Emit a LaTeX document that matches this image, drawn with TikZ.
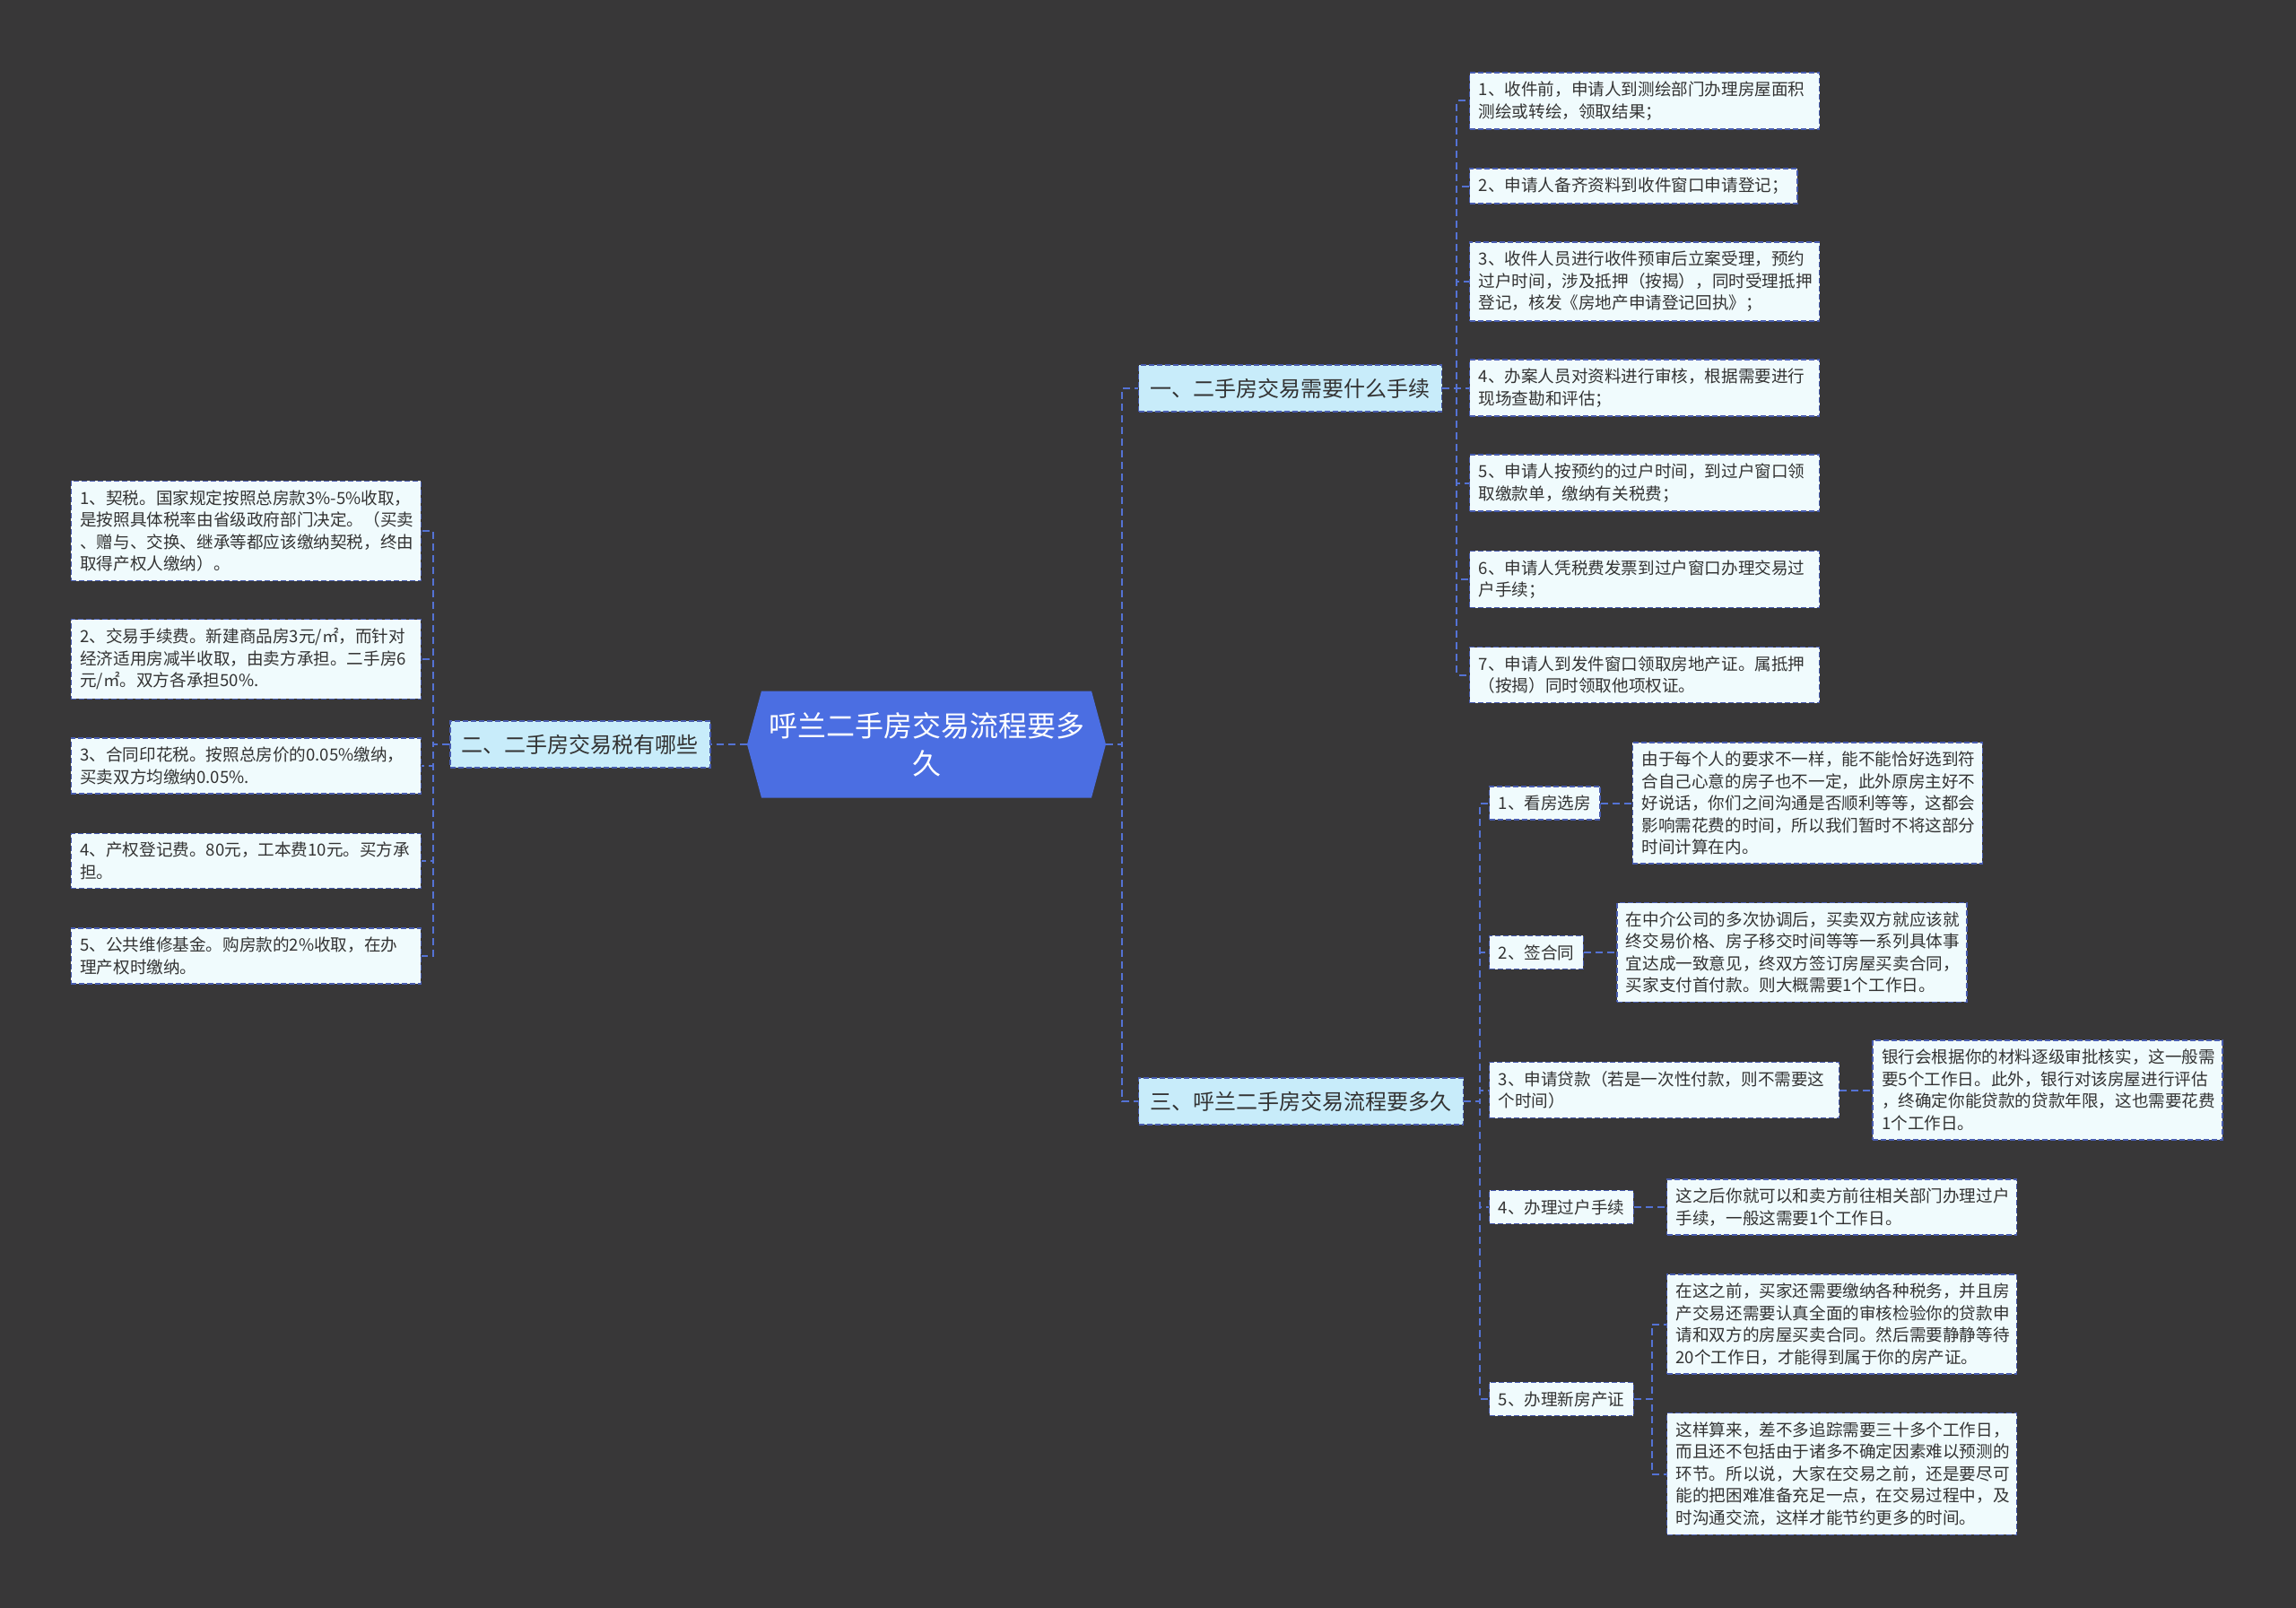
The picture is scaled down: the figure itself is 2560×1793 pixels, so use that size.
\documentclass[tikz,border=0pt]{standalone}
\usepackage{fontspec}
\setmainfont{Noto Sans CJK SC}
\usepackage{xcolor}
\usepackage{tikz}
\usetikzlibrary{positioning, calc}
\definecolor{canvas}{RGB}{56,55,56}
\definecolor{topicblue}{RGB}{75,110,226}
\definecolor{branchfill}{RGB}{200,236,250}
\definecolor{leaffill}{RGB}{240,251,253}
\definecolor{rim}{RGB}{72,92,175}
\definecolor{wire}{RGB}{84,114,212}
\definecolor{ink}{RGB}{51,51,51}
\tikzset{topic/.style={
    rectangle,
    minimum width=200pt,
    minimum height=59.5pt,
    align=center,
    text=white,
    font=\fontsize{16pt}{21pt}\selectfont,
    path picture={
        \fill[topicblue] ([xshift=8pt]path picture bounding box.north west)
            -- ([xshift=-8pt]path picture bounding box.north east)
            -- (path picture bounding box.east)
            -- ([xshift=-8pt]path picture bounding box.south east)
            -- ([xshift=8pt]path picture bounding box.south west)
            -- (path picture bounding box.west) -- cycle;
    }
}}
\tikzset{branch/.style={
    rectangle,
    fill=branchfill,
    draw=rim,
    line width=0.7pt,
    dash pattern=on 3pt off 1.5pt,
    inner xsep=6.5pt,
    minimum height=26pt,
    text=ink,
    font=\fontsize{12pt}{14pt}\selectfont
}}
\tikzset{leaf/.style={
    rectangle,
    fill=leaffill,
    draw=rim,
    line width=0.7pt,
    dash pattern=on 3pt off 1.5pt,
    inner xsep=5pt,
    inner ysep=5pt,
    align=left,
    text=ink,
    font=\fontsize{9.3pt}{12.25pt}\selectfont
}}
\tikzset{note/.style={leaf, text width=185pt}}
\tikzset{link/.style={draw=wire, line width=1pt, dash pattern=on 4pt off 2.5pt}}

\begin{document}
\begin{tikzpicture}[x=0.5pt, y=-0.5pt]
    \fill[canvas] (0,0) rectangle (2560,1793);
    % centre and main branches
    \node (topic) [topic] at (1033,830) {呼兰二手房交易流程要多\\久};
    \node (taxes) [branch, left=20pt of topic] {二、二手房交易税有哪些};
    \node (steps) [branch, anchor=west] at (1269,433) {一、二手房交易需要什么手续};
    \node (timing) [branch, anchor=west] at (1269,1228) {三、呼兰二手房交易流程要多久};
    % procedure
    \node (s1) [note, anchor=west] at (1638,112.5) {1、收件前，申请人到测绘部门办理房屋面积\\测绘或转绘，领取结果；};
    \node (s2) [leaf, anchor=west] at (1638,207.5) {2、申请人备齐资料到收件窗口申请登记；};
    \node (s3) [note, anchor=west] at (1638,314) {3、收件人员进行收件预审后立案受理，预约\\过户时间，涉及抵押（按揭），同时受理抵押\\登记，核发《房地产申请登记回执》；};
    \node (s4) [note, anchor=west] at (1638,432.5) {4、办案人员对资料进行审核，根据需要进行\\现场查勘和评估；};
    \node (s5) [note, anchor=west] at (1638,538.5) {5、申请人按预约的过户时间，到过户窗口领\\取缴款单，缴纳有关税费；};
    \node (s6) [note, anchor=west] at (1638,646) {6、申请人凭税费发票到过户窗口办理交易过\\户手续；};
    \node (s7) [note, anchor=west] at (1638,752.5) {7、申请人到发件窗口领取房地产证。属抵押\\（按揭）同时领取他项权证。};
    % taxes
    \node (t1) [note, anchor=east] at (470,592) {1、契税。国家规定按照总房款3\%-5\%收取，\\是按照具体税率由省级政府部门决定。（买卖\\、赠与、交换、继承等都应该缴纳契税，终由\\取得产权人缴纳）。};
    \node (t2) [note, anchor=east] at (470,735) {2、交易手续费。新建商品房3元/㎡，而针对\\经济适用房减半收取，由卖方承担。二手房6\\元/㎡。双方各承担50\%.};
    \node (t3) [note, anchor=east] at (470,854) {3、合同印花税。按照总房价的0.05\%缴纳，\\买卖双方均缴纳0.05\%.};
    \node (t4) [note, anchor=east] at (470,960) {4、产权登记费。80元，工本费10元。买方承\\担。};
    \node (t5) [note, anchor=east] at (470,1066) {5、公共维修基金。购房款的2\%收取，在办\\理产权时缴纳。};
    % phases
    \node (p1) [leaf, anchor=west] at (1660,895.5) {1、看房选房};
    \node (p2) [leaf, anchor=west] at (1660,1062) {2、签合同};
    \node (p3) [note, anchor=west] at (1660,1215.5) {3、申请贷款（若是一次性付款，则不需要这\\个时间）};
    \node (p4) [leaf, anchor=west] at (1660,1346) {4、办理过户手续};
    \node (p5) [leaf, anchor=west] at (1660,1560) {5、办理新房产证};
    \node (d1) [note, right=17.5pt of p1] {由于每个人的要求不一样，能不能恰好选到符\\合自己心意的房子也不一定，此外原房主好不\\好说话，你们之间沟通是否顺利等等，这都会\\影响需花费的时间，所以我们暂时不将这部分\\时间计算在内。};
    \node (d2) [note, right=18pt of p2] {在中介公司的多次协调后，买卖双方就应该就\\终交易价格、房子移交时间等等一系列具体事\\宜达成一致意见，终双方签订房屋买卖合同，\\买家支付首付款。则大概需要1个工作日。};
    \node (d3) [note, right=18pt of p3] {银行会根据你的材料逐级审批核实，这一般需\\要5个工作日。此外，银行对该房屋进行评估\\，终确定你能贷款的贷款年限，这也需要花费\\1个工作日。};
    \node (d4) [note, right=18pt of p4] {这之后你就可以和卖方前往相关部门办理过户\\手续，一般这需要1个工作日。};
    \node (d5a) [note, right=18pt of p5, yshift=41.75pt] {在这之前，买家还需要缴纳各种税务，并且房\\产交易还需要认真全面的审核检验你的贷款申\\请和双方的房屋买卖合同。然后需要静静等待\\20个工作日，才能得到属于你的房产证。};
    \node (d5b) [note, right=18pt of p5, yshift=-41.75pt] {这样算来，差不多追踪需要三十多个工作日，\\而且还不包括由于诸多不确定因素难以预测的\\环节。所以说，大家在交易之前，还是要尽可\\能的把困难准备充足一点，在交易过程中，及\\时沟通交流，这样才能节约更多的时间。};
    % spines
    \coordinate (jt) at ([xshift=9pt]topic.east);
    \coordinate (js) at ([xshift=8pt]steps.east);
    \coordinate (jx) at ([xshift=-9pt]taxes.west);
    \coordinate (jp) at ([xshift=9pt]timing.east);
    \coordinate (j5) at ([xshift=10pt]p5.east);
    % connectors
    \draw[link] (topic.west) -- (taxes.east);
    \draw[link] (topic.east) -- (jt) |- (steps.west);
    \draw[link] (topic.east) -- (jt) |- (timing.west);
    \foreach \i in {1,...,7}
        \draw[link] (steps.east) -- (js) |- (s\i.west);
    \foreach \i in {1,...,5}
        \draw[link] (taxes.west) -- (jx) |- (t\i.east);
    \foreach \i in {1,...,5}
        \draw[link] (timing.east) -- (jp) |- (p\i.west);
    \foreach \i in {1,...,4}
        \draw[link] (p\i) -- (d\i);
    \draw[link] (p5.east) -- (j5) |- (d5a.west);
    \draw[link] (p5.east) -- (j5) |- (d5b.west);
\end{tikzpicture}
\end{document}
